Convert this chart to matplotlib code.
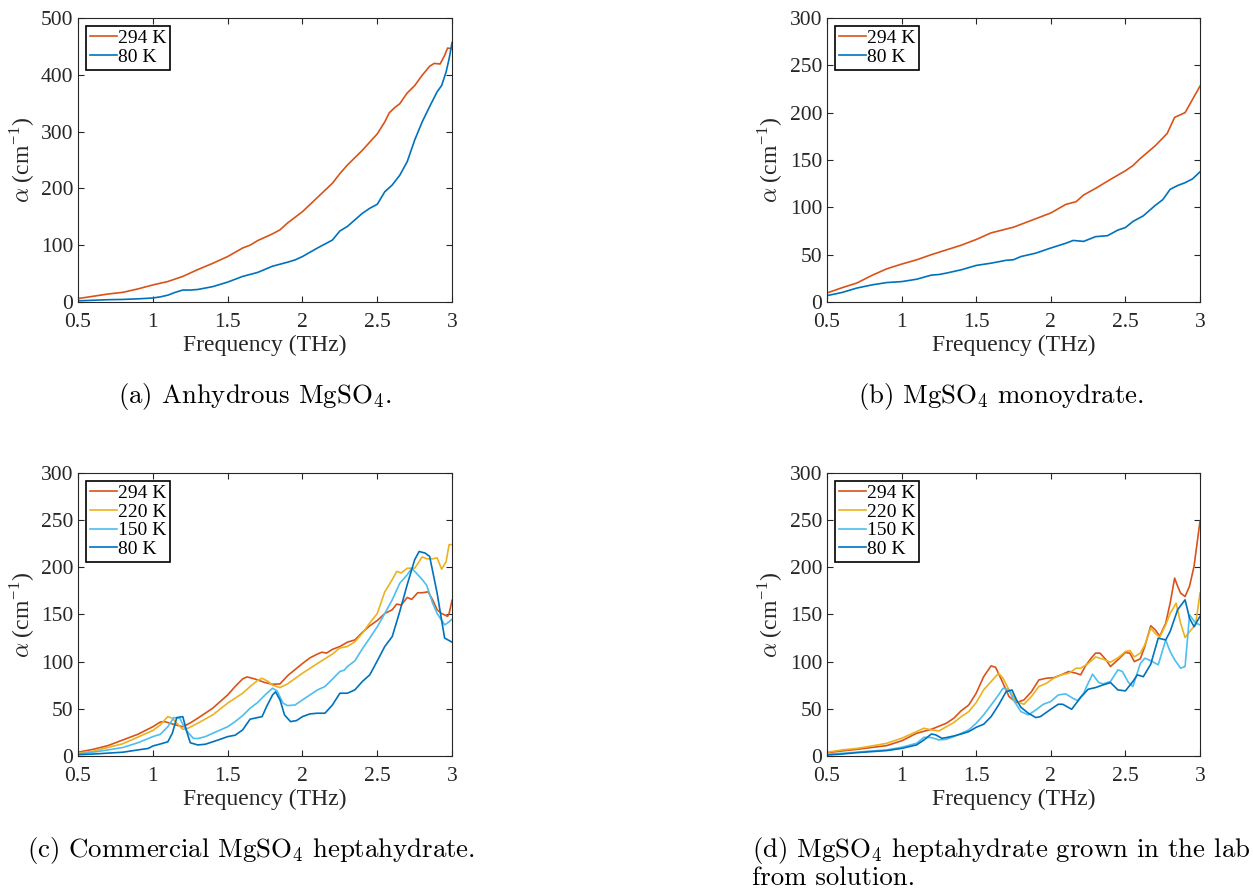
import matplotlib
matplotlib.use("Agg")
import matplotlib.pyplot as plt

# MATLAB default line colours
c294 = "#D95319"
c220 = "#EDB120"
c150 = "#4DBEEE"
c80 = "#0072BD"

# (a) anhydrous
a294_f = [0.5, 0.6, 0.7, 0.8, 0.9, 1.0, 1.1, 1.2, 1.3, 1.4, 1.5, 1.6, 1.65, 1.7, 1.8, 1.85, 1.9, 2.0,
          2.1, 2.2, 2.25, 2.3, 2.4, 2.5, 2.55, 2.58, 2.62, 2.65, 2.7, 2.75, 2.8, 2.85, 2.88, 2.92,
          2.95, 2.97, 3.0]
a294_v = [6, 10, 14, 17, 23, 30, 36, 45, 57, 68, 80, 95, 100, 108, 120, 127, 139, 159,
          184, 209, 226, 241, 267, 296, 317, 333, 343, 349, 368, 381, 399, 415, 420, 419,
          434, 447, 446]
a80_f = [0.5, 0.6, 0.7, 0.8, 0.9, 1.0, 1.05, 1.1, 1.15, 1.2, 1.25, 1.3, 1.4, 1.5, 1.6, 1.7, 1.8,
         1.9, 1.95, 2.0, 2.1, 2.2, 2.25, 2.3, 2.4, 2.45, 2.5, 2.55, 2.6, 2.65, 2.7, 2.75, 2.8,
         2.85, 2.9, 2.93, 2.96, 2.98, 3.0]
a80_v = [2, 3, 4, 4.5, 5.5, 7, 9, 12, 17, 21, 21, 22, 27, 35, 45, 52, 63,
         70, 74, 80, 95, 109, 125, 133, 156, 165, 172, 194, 206, 223, 247, 285, 317,
         344, 370, 381, 405, 428, 457]

# (b) monohydrate
b294_f = [0.5, 0.6, 0.7, 0.8, 0.9, 1.0, 1.1, 1.2, 1.3, 1.4, 1.5, 1.6, 1.7, 1.75, 1.8, 1.9, 2.0,
          2.1, 2.17, 2.22, 2.3, 2.4, 2.5, 2.55, 2.6, 2.7, 2.78, 2.83, 2.9, 3.0]
b294_v = [9.5, 15, 20, 28, 35, 40, 44.5, 50, 55, 60, 66, 73, 77, 79, 82, 88, 94,
          103, 106, 113, 120, 129.5, 138.6, 144, 151.6, 165, 178, 195, 200, 228]
b80_f = [0.5, 0.6, 0.7, 0.8, 0.9, 1.0, 1.1, 1.2, 1.25, 1.3, 1.4, 1.5, 1.6, 1.7, 1.75, 1.8, 1.9,
         2.0, 2.1, 2.15, 2.22, 2.3, 2.38, 2.45, 2.5, 2.55, 2.62, 2.7, 2.75, 2.8, 2.85, 2.9,
         2.95, 3.0]
b80_v = [6.7, 10, 14.7, 18, 20.5, 21.5, 24, 28.4, 29, 30.5, 34, 38.6, 41, 44, 44.6, 48, 51.6,
         57, 62, 65, 64, 69, 70, 76, 78.6, 85, 91, 102, 108, 119, 123, 126,
         130, 137.5]

# (c) commercial heptahydrate
c294_f = [0.5, 0.6, 0.7, 0.8, 0.9, 1.0, 1.05, 1.08, 1.15, 1.2, 1.25, 1.3, 1.4, 1.5, 1.55, 1.6,
          1.63, 1.68, 1.75, 1.8, 1.85, 1.9, 2.0, 2.05, 2.1, 2.13, 2.16, 2.2, 2.25, 2.3, 2.35,
          2.4, 2.45, 2.5, 2.55, 2.6, 2.63, 2.66, 2.7, 2.73, 2.77, 2.8, 2.84, 2.87, 2.9, 2.93,
          2.97, 2.98, 3.0]
c294_v = [4, 7, 11, 17, 23, 31, 36, 36.4, 33, 31, 35, 40, 50.6, 64.7, 73.6, 81.7,
          83.8, 81.7, 77.8, 76, 76.4, 85, 98, 104, 108, 110, 109, 113, 116, 120.6, 123,
          131, 138, 143.6, 151, 155, 161, 160, 168, 166, 173, 173, 174, 165.5, 155, 151,
          148, 151, 165]
c220_f = [0.5, 0.6, 0.7, 0.8, 0.9, 1.0, 1.05, 1.1, 1.13, 1.17, 1.2, 1.23, 1.3, 1.4, 1.5, 1.6,
          1.65, 1.7, 1.73, 1.77, 1.8, 1.85, 1.9, 2.0, 2.1, 2.2, 2.25, 2.3, 2.35, 2.4, 2.45,
          2.5, 2.55, 2.6, 2.63, 2.66, 2.7, 2.75, 2.8, 2.83, 2.87, 2.9, 2.93, 2.96, 2.98, 3.0]
c220_v = [3, 5, 9, 13, 20, 27, 33, 41.7, 40, 33, 28.3, 29, 34.7, 43.5, 56, 66.5,
          73.6, 80, 82.4, 79, 75, 72.5, 76.4, 87.7, 98, 108, 114.5, 116, 121, 130, 141,
          151, 174, 187, 195.6, 194, 199, 199, 211, 209, 209, 210, 198, 206, 224, 224]
c150_f = [0.5, 0.6, 0.7, 0.8, 0.9, 1.0, 1.05, 1.1, 1.14, 1.18, 1.22, 1.27, 1.3, 1.35, 1.4, 1.5,
          1.55, 1.6, 1.65, 1.7, 1.75, 1.8, 1.83, 1.87, 1.9, 1.95, 2.0, 2.1, 2.15, 2.2, 2.25,
          2.28, 2.3, 2.35, 2.4, 2.45, 2.5, 2.55, 2.6, 2.65, 2.7, 2.73, 2.76, 2.8, 2.83, 2.87,
          2.9, 2.95, 2.97, 3.0]
c150_v = [2, 4, 6.4, 9, 14, 20.5, 23, 31, 40.7, 40, 27.6, 18.7, 18.4, 20.5, 24, 31,
          36.4, 42.8, 50.6, 56.6, 64.7, 71.8, 69, 56, 53.4, 54, 59.4, 70, 73.6, 81.4, 89.5,
          91, 94.8, 100.8, 113.5, 125, 137, 151, 165.5, 183, 192, 199, 194, 187, 181, 162,
          151, 139, 141, 145]
c80_f = [0.5, 0.6, 0.7, 0.8, 0.9, 0.97, 1.0, 1.05, 1.1, 1.13, 1.16, 1.2, 1.23, 1.25, 1.3, 1.35,
         1.4, 1.45, 1.5, 1.55, 1.6, 1.65, 1.7, 1.73, 1.76, 1.8, 1.82, 1.85, 1.88, 1.92, 1.96,
         2.0, 2.05, 2.1, 2.15, 2.2, 2.25, 2.3, 2.35, 2.4, 2.45, 2.5, 2.55, 2.6, 2.65, 2.7,
         2.75, 2.78, 2.82, 2.85, 2.9, 2.95, 3.0]
c80_v = [1.4, 2, 3, 4, 6.4, 8, 10.6, 12.7, 15, 24, 40.7, 41.7, 24, 14, 11.7, 12.4,
         15, 17.7, 20.5, 22, 27.6, 39, 40.7, 41.7, 52.3, 64.7, 68, 59.4, 43.5, 36.4, 37.5,
         41.7, 44.6, 45.3, 45.3, 54, 66.5, 66.5, 70, 78.9, 86, 100.8, 116, 126.6, 153, 181.5,
         208, 216.8, 215, 211.5, 172.6, 125, 120.6]

# (d) lab-grown heptahydrate
d294_f = [0.5, 0.6, 0.7, 0.8, 0.9, 1.0, 1.1, 1.2, 1.3, 1.35, 1.4, 1.45, 1.5, 1.55, 1.6, 1.63,
          1.67, 1.72, 1.77, 1.82, 1.87, 1.92, 1.97, 2.02, 2.07, 2.12, 2.17, 2.2, 2.23, 2.27,
          2.3, 2.33, 2.37, 2.4, 2.45, 2.5, 2.53, 2.56, 2.6, 2.63, 2.67, 2.7, 2.73, 2.77, 2.8,
          2.83, 2.85, 2.87, 2.9, 2.93, 2.96, 3.0]
d294_v = [3.5, 5.3, 7, 9, 11, 16, 24, 28.3, 34.7, 40, 48, 54, 66.5, 84, 95.5, 94,
          80.6, 63, 56.6, 59.4, 68, 80.6, 82.4, 83, 86, 89.5, 87.7, 86, 94.8, 103.6,
          109, 109, 102, 94.8, 102, 109.7, 109, 100, 103, 116, 138, 133.7, 127, 140.6, 162,
          188.5, 180, 172.6, 169, 180, 201, 248.7]
d220_f = [0.5, 0.6, 0.7, 0.8, 0.9, 1.0, 1.1, 1.15, 1.2, 1.25, 1.3, 1.35, 1.4, 1.45, 1.5, 1.55,
          1.6, 1.65, 1.68, 1.72, 1.77, 1.82, 1.87, 1.92, 1.97, 2.02, 2.07, 2.12, 2.17, 2.2,
          2.25, 2.3, 2.35, 2.4, 2.45, 2.5, 2.53, 2.56, 2.6, 2.63, 2.67, 2.7, 2.73, 2.77, 2.8,
          2.84, 2.87, 2.9, 2.94, 2.97, 3.0]
d220_v = [4, 6.4, 8, 10.6, 13.4, 18.7, 25.8, 29.4, 27.6, 26.5, 31, 35.4, 41.7, 47, 56.6, 70,
          78.9, 87.7, 82.4, 70, 57.7, 54.8, 63, 73.6, 77, 82.4, 86, 87.7, 93, 93,
          98, 105, 102.6, 99.4, 104, 110.7, 111.8, 105, 109, 117.8, 135.5, 130, 126, 139, 151,
          162, 140.8, 125.6, 133.7, 139, 172.6]
d150_f = [0.5, 0.6, 0.7, 0.8, 0.9, 1.0, 1.1, 1.15, 1.2, 1.25, 1.3, 1.35, 1.4, 1.45, 1.5, 1.55,
          1.6, 1.65, 1.68, 1.72, 1.75, 1.8, 1.85, 1.9, 1.95, 2.0, 2.05, 2.1, 2.15, 2.18, 2.22,
          2.25, 2.28, 2.32, 2.35, 2.4, 2.45, 2.48, 2.52, 2.55, 2.6, 2.63, 2.67, 2.72, 2.77,
          2.8, 2.83, 2.87, 2.9, 2.93, 2.97, 3.0]
d150_v = [1.8, 2.8, 4, 5.3, 6.4, 9.2, 13.4, 19.8, 19.5, 17, 17.7, 20.5, 24, 27.6, 34.7, 43.5,
          54, 64.7, 71.8, 70, 59.4, 47, 43.5, 48.8, 54.8, 57.7, 64.7, 65.8, 61, 58.7, 66.5,
          77, 86.7, 78, 76.4, 78.9, 91.3, 89.5, 78, 73.6, 98, 103.6, 101, 96.6, 122.8,
          110.7, 102, 93, 94.8, 149.6, 140.8, 139]
d80_f = [0.5, 0.6, 0.7, 0.8, 0.9, 1.0, 1.1, 1.15, 1.2, 1.23, 1.27, 1.3, 1.35, 1.4, 1.45, 1.5,
         1.55, 1.6, 1.65, 1.7, 1.74, 1.77, 1.8, 1.85, 1.9, 1.93, 2.0, 2.05, 2.08, 2.14, 2.2,
         2.25, 2.3, 2.35, 2.4, 2.45, 2.5, 2.55, 2.58, 2.62, 2.67, 2.72, 2.77, 2.8, 2.85, 2.9,
         2.93, 2.96, 3.0]
d80_v = [1, 2, 3.5, 4.6, 5.7, 8, 11.7, 17, 23.3, 22.3, 18.7, 19.5, 21.2, 23.3, 25.8, 30.4,
         33.6, 41.7, 54, 68, 70, 59.4, 51.6, 45.3, 40.7, 41.7, 49.5, 54.8, 54.8, 49.5, 62,
         70.7, 72.5, 75.3, 77.8, 70, 69, 78.9, 86, 84, 97.3, 124.9, 123, 132, 155, 165.5,
         146, 137, 148]

panels = [
    ([0.0623, 0.6607, 0.2985, 0.3191], 500,
     [(a294_f, a294_v, c294, "294 K"), (a80_f, a80_v, c80, "80 K")]),
    ([0.6600, 0.6607, 0.2977, 0.3191], 300,
     [(b294_f, b294_v, c294, "294 K"), (b80_f, b80_v, c80, "80 K")]),
    ([0.0623, 0.1506, 0.2985, 0.3180], 300,
     [(c294_f, c294_v, c294, "294 K"), (c220_f, c220_v, c220, "220 K"),
      (c150_f, c150_v, c150, "150 K"), (c80_f, c80_v, c80, "80 K")]),
    ([0.6600, 0.1506, 0.2977, 0.3180], 300,
     [(d294_f, d294_v, c294, "294 K"), (d220_f, d220_v, c220, "220 K"),
      (d150_f, d150_v, c150, "150 K"), (d80_f, d80_v, c80, "80 K")]),
]

plt.rcParams["font.family"] = "Liberation Serif"
plt.rcParams["mathtext.fontset"] = "cm"

fig = plt.figure(figsize=(12.53, 8.9), dpi=100)

for rect, ymax, series in panels:
    ax = fig.add_axes(rect)
    for f, v, col, lab in series:
        ax.plot(f, v, color=col, lw=1.2, label=lab)
    ax.set_xlim(0.5, 3)
    ax.set_ylim(0, ymax)
    ax.set_xticks([0.5, 1, 1.5, 2, 2.5, 3])
    ax.set_xticklabels(["0.5", "1", "1.5", "2", "2.5", "3"])
    ax.tick_params(direction="in", top=True, right=True, length=4, width=0.8,
                   labelsize=15.5, colors="#262626")
    ax.tick_params(axis="x", pad=8)
    ax.tick_params(axis="y", pad=3.5)
    for sp in ax.spines.values():
        sp.set_color("#262626")
        sp.set_linewidth(0.8)
    ax.set_xlabel("Frequency (THz)", fontsize=17, color="#262626", labelpad=2)
    ax.set_ylabel(r"$\alpha$ (cm$^{\mathregular{-1}}$)", fontsize=17, color="#262626",
                  labelpad=3, math_fontfamily="cm")
    leg = ax.legend(loc="upper left", fontsize=14, handlelength=1.4, handletextpad=0.05,
                    labelspacing=0.05, borderpad=0.2, borderaxespad=0.4, fancybox=False,
                    framealpha=1, edgecolor="black")
    leg.get_frame().set_linewidth(1.2)

# sub-figure captions
cap_kw = dict(fontsize=19.3, family="cmr10", va="center")
fig.text(255 / 1253, 1 - 397 / 890, "(a) Anhydrous MgSO$_4$.", ha="center", **cap_kw)
fig.text(1001 / 1253, 1 - 397 / 890, "(b) MgSO$_4$ monoydrate.", ha="center", **cap_kw)
fig.text(251 / 1253, 1 - 850 / 890, "(c) Commercial MgSO$_4$ heptahydrate.", ha="center", **cap_kw)
fig.text(752 / 1253, 1 - 850 / 890, "(d) MgSO$_4$ heptahydrate grown in the lab", ha="left", **cap_kw)
fig.text(752 / 1253, 1 - 878 / 890, "from solution.", ha="left", **cap_kw)

fig.savefig("out.png", dpi=100)
